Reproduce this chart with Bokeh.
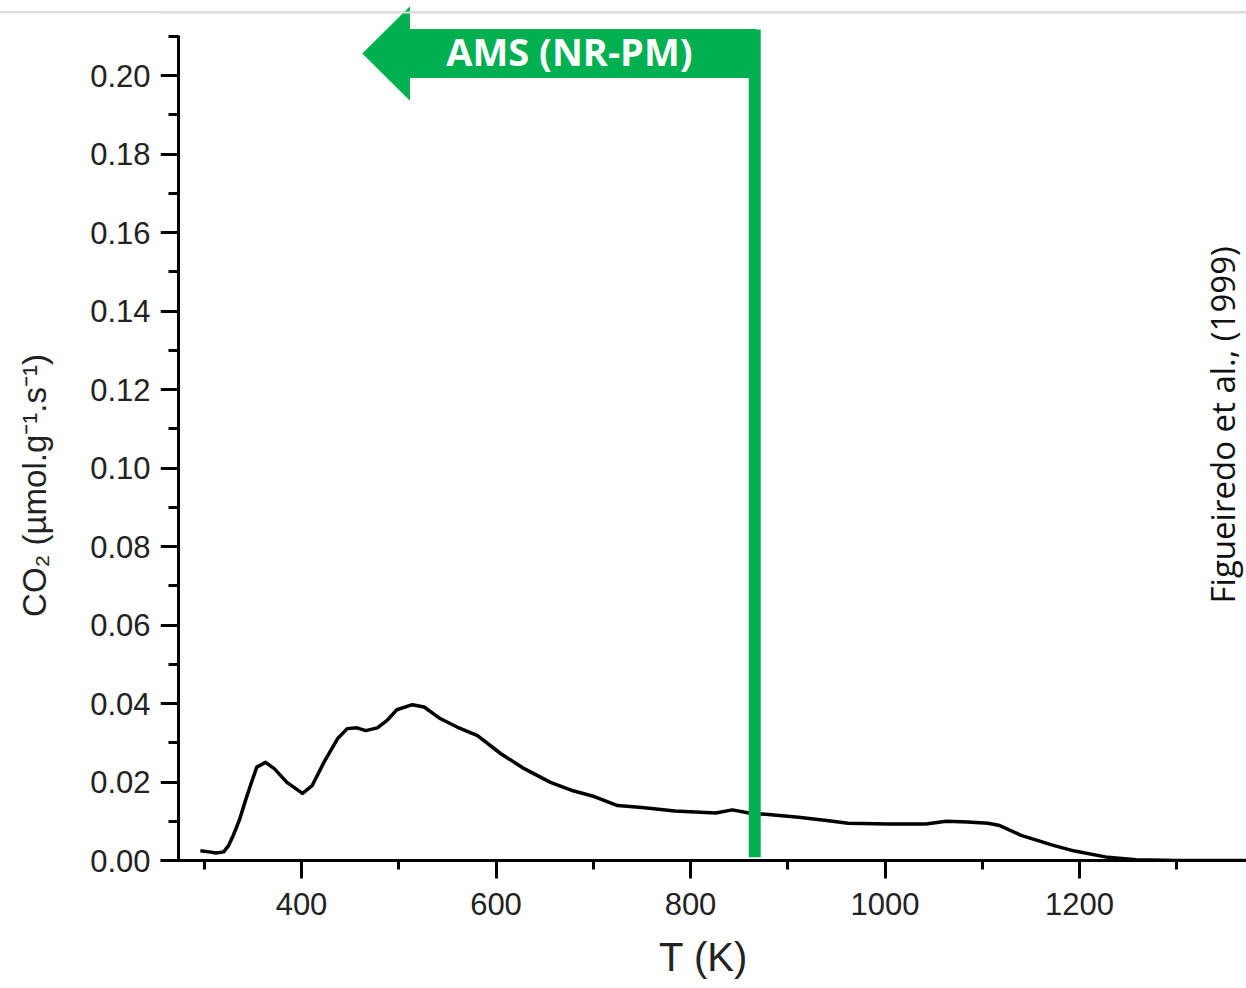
import numpy as np
from bokeh.plotting import figure
from bokeh.models import Range1d, FixedTicker, PrintfTickFormatter, LinearAxis, Span
from bokeh.core.properties import value
from bokeh.embed import file_html
from bokeh.resources import INLINE

# ---- data (TPD profile, Figueiredo et al. 1999) ----
T_K = [296, 305, 312, 320, 325, 330, 336, 342, 348, 354, 363, 372, 385, 401,
       411, 423, 437, 447, 457, 466, 478, 488, 498, 514, 526, 543, 560, 581,
       605, 629, 656, 680, 701, 725, 750, 784, 826, 843, 860, 880, 911, 940,
       962, 1004, 1042, 1063, 1085, 1106, 1118, 1140, 1174, 1195, 1229, 1258,
       1300, 1372]
CO2 = [0.0025, 0.0022, 0.0019, 0.0022, 0.0038, 0.0065, 0.0102, 0.0150, 0.0195,
       0.0238, 0.0250, 0.0234, 0.0199, 0.0171, 0.0191, 0.0250, 0.0310, 0.0336,
       0.0338, 0.0331, 0.0338, 0.0357, 0.0384, 0.0397, 0.0391, 0.0361, 0.0340,
       0.0318, 0.0272, 0.0234, 0.0199, 0.0177, 0.0163, 0.0140, 0.0135, 0.0126,
       0.0121, 0.0129, 0.0121, 0.0117, 0.0110, 0.0102, 0.0095, 0.0093, 0.0093,
       0.0100, 0.0098, 0.0095, 0.0089, 0.0064, 0.0038, 0.0024, 0.0008, 0.0002,
       0.0, 0.0]

x_ticks = [400, 600, 800, 1000, 1200]
x_minor = [300, 500, 700, 900, 1100, 1300]
y_ticks = [0.00, 0.02, 0.04, 0.06, 0.08, 0.10, 0.12, 0.14, 0.16, 0.18, 0.20]
y_minor = [0.01, 0.03, 0.05, 0.07, 0.09, 0.11, 0.13, 0.15, 0.17, 0.19, 0.21]

x_label = "T (K)"
y_label = "CO\u2082 (\u00b5mol.g\u207b\u00b9.s\u207b\u00b9)"
ams_label = "AMS (NR-PM)"
citation = "Figueiredo et al., (1999)"

# AMS (NR-PM) cut-off temperature and arrow geometry (data units)
AMS_T = 866
ARROW_TIP_T = 463
ARROW_HEAD_T = 511
ARROW_Y = 0.2056
HEAD_HALF = 0.0118
SHAFT_HALF = 0.0061
Y_AXIS_AT = 273.5

GREEN = "#00B050"

p = figure(width=1246, height=988, output_backend="svg", toolbar_location=None,
           x_range=Range1d(255, 1371.7), y_range=Range1d(0, 0.21911),
           y_axis_location=None,
           min_border_left=160, min_border_right=0, min_border_top=0,
           min_border_bottom=128, background_fill_color=None,
           border_fill_color=None)
p.styles = {"background": "linear-gradient(to bottom, #ffffff 0px, #ffffff 11px, "
                          "#dcdcdc 11px, #dcdcdc 13px, #f4f4f4 13px, #ffffff 15px, "
                          "#ffffff 100%)"}
p.outline_line_color = None
p.xgrid.visible = False
p.ygrid.visible = False

# top page border line
p.add_layout(Span(location=0.21605, dimension="width", line_color="#dcdcdc",
                  line_width=2))

# curve
p.line(T_K, CO2, line_color="black", line_width=3.5, line_join="round")

# AMS vertical limit + arrow
p.segment(x0=[AMS_T], y0=[0.0008], x1=[AMS_T], y1=[ARROW_Y + SHAFT_HALF],
          line_color=GREEN, line_width=12)
ax = [ARROW_TIP_T, ARROW_HEAD_T, ARROW_HEAD_T, AMS_T + 1, AMS_T + 1,
      ARROW_HEAD_T, ARROW_HEAD_T]
ay = [ARROW_Y, ARROW_Y + HEAD_HALF, ARROW_Y + SHAFT_HALF, ARROW_Y + SHAFT_HALF,
      ARROW_Y - SHAFT_HALF, ARROW_Y - SHAFT_HALF, ARROW_Y - HEAD_HALF]
p.patch(ax, ay, fill_color=GREEN, line_color=GREEN, line_width=1)
p.text(x=[(ARROW_HEAD_T + AMS_T) / 2 - 13], y=[ARROW_Y + 0.0006], text=[ams_label],
       text_color="white", text_font=value("Open Sans"), text_font_style="bold",
       text_font_size="38px", text_align="center", text_baseline="middle")

# citation
p.text(x=[1347.5], y=[0.1110], text=[citation], angle=np.pi / 2,
       text_color="#111111", text_font=value("Open Sans"), text_font_size="33px",
       text_align="center", text_baseline="alphabetic")

# x axis
xa = p.xaxis[0]
xa.ticker = FixedTicker(ticks=x_ticks, minor_ticks=x_minor)
xa.formatter = PrintfTickFormatter(format="%d")
xa.axis_label = x_label

# y axis: labels (in the left panel) and line/ticks (at fixed location)
ylab = LinearAxis(ticker=FixedTicker(ticks=y_ticks, minor_ticks=[]),
                  formatter=PrintfTickFormatter(format="%.2f"),
                  axis_label=y_label + "\u00a0" * 12)
ylab.axis_line_color = None
ylab.major_tick_line_color = None
ylab.minor_tick_line_color = None
ylab.major_tick_in = 0
ylab.major_tick_out = 0
ylab.minor_tick_in = 0
ylab.minor_tick_out = 0
ylab.major_label_standoff = 10
ylab.axis_label_standoff = 34
p.add_layout(ylab, "left")

yax = LinearAxis(ticker=FixedTicker(ticks=y_ticks, minor_ticks=y_minor),
                 formatter=PrintfTickFormatter(format="%.2f"))
yax.fixed_location = Y_AXIS_AT
yax.bounds = (0, 0.2102)
yax.major_label_overrides = {t: "" for t in y_ticks}
yax.major_label_standoff = 0
yax.minor_tick_out = 10
p.add_layout(yax, "left")

for a in (xa, yax):
    a.axis_line_width = 3
    a.axis_line_color = "black"
    a.major_tick_line_width = 3
    a.minor_tick_line_width = 3
    a.major_tick_line_color = "black"
    a.minor_tick_line_color = "black"
    a.major_tick_in = 0
    a.minor_tick_in = 0
    a.major_tick_out = 18

for a in (xa, ylab):
    a.major_label_text_font = "Liberation Sans"
    a.major_label_text_font_size = "31px"
    a.major_label_text_color = "#222222"
    a.axis_label_text_font = "Liberation Sans"
    a.axis_label_text_font_style = "normal"
    a.axis_label_text_color = "#222222"

xa.minor_tick_out = 9
xa.major_label_standoff = 14
xa.axis_label_text_font_size = "40px"
xa.axis_label_standoff = 17
ylab.axis_label_text_font_size = "33px"

open("out.html", "w").write(file_html(p, INLINE))
